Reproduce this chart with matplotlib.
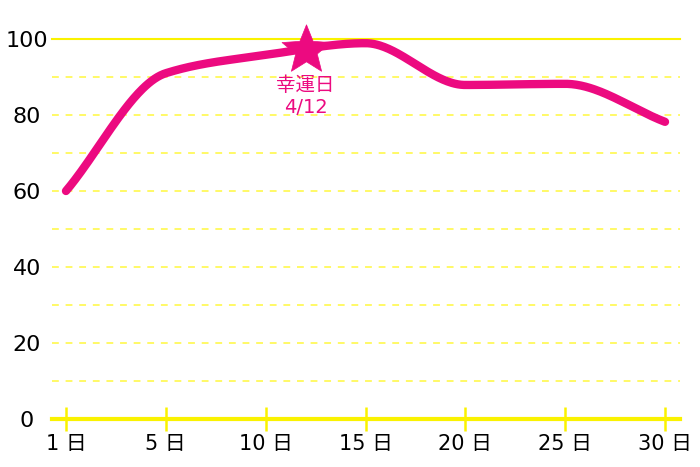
import numpy as np
import matplotlib
matplotlib.use("Agg")
import matplotlib.pyplot as plt
from matplotlib.path import Path

plt.rcParams['font.family'] = ['DejaVu Sans', 'Noto Sans CJK JP']

days = [1, 5, 10, 15, 20, 25, 30]
values = [60, 91, 95.8, 98.9, 87.9, 88.2, 78.2]
x_labels = ["1 日", "5 日", "10 日", "15 日", "20 日", "25 日", "30 日"]
y_ticks = [0, 20, 40, 60, 80, 100]
lucky_day = 12
lucky_value = 97.2
lucky_label = "幸運日\n4/12"

PINK = '#EC0A80'
YELLOW = '#FAF200'
LIGHT_YELLOW = '#FFF966'


def pchip(x, y, xs):
    x = np.asarray(x, float); y = np.asarray(y, float)
    h = np.diff(x); d = np.diff(y) / h
    n = len(x); m = np.zeros(n)
    for k in range(1, n - 1):
        if d[k - 1] * d[k] > 0:
            w1 = 2 * h[k] + h[k - 1]; w2 = h[k] + 2 * h[k - 1]
            m[k] = (w1 + w2) / (w1 / d[k - 1] + w2 / d[k])
    m[0] = d[0]; m[-1] = d[-1]
    out = np.empty_like(xs)
    for i, xv in enumerate(xs):
        k = min(max(np.searchsorted(x, xv) - 1, 0), n - 2)
        t = (xv - x[k]) / h[k]
        h00 = 2*t**3 - 3*t**2 + 1; h10 = t**3 - 2*t**2 + t
        h01 = -2*t**3 + 3*t**2; h11 = t**3 - t**2
        out[i] = h00*y[k] + h10*h[k]*m[k] + h01*y[k+1] + h11*h[k]*m[k+1]
    return out


idx = np.arange(len(days))
fig = plt.figure(figsize=(7, 4.67), dpi=100)
ax = fig.add_axes([52/700, 1-419/467, 628/700, 380/467])
ax.set_xlim(-0.14, 6.15)
ax.set_ylim(0, 100)

# grid
for v in range(10, 100, 10):
    ax.axhline(v, color=LIGHT_YELLOW, lw=1.4, ls=(0, (3.5, 3.5)), zorder=1)
ax.axhline(100, color=YELLOW, lw=1.5, zorder=1, clip_on=False)

xs = np.linspace(0, 6, 400)
ys = pchip(idx, values, xs)
ax.plot(xs, ys, color=PINK, lw=6, solid_capstyle='round', zorder=3, clip_on=False)

# lucky day star (map day into index space)
lx = np.interp(lucky_day, days, idx)
star = Path.unit_regular_star(5, 0.44)
ax.plot([lx], [lucky_value], marker=star, ms=37, color=PINK, mec=PINK, mew=0.5,
        zorder=4, clip_on=False)
ax.text(lx, 84.9, lucky_label, color=PINK, fontsize=14, ha='center', va='center',
        linespacing=1.15, zorder=4)

for s in ['top', 'right', 'left']:
    ax.spines[s].set_visible(False)
ax.spines['bottom'].set_color(YELLOW)
ax.spines['bottom'].set_linewidth(3)
ax.spines['bottom'].set_zorder(2)

ax.set_xticks(idx)
ax.set_xticklabels(x_labels, fontsize=15)
ax.tick_params(axis='x', direction='inout', length=17, width=1.8, color=YELLOW, pad=2)
ax.set_yticks(y_ticks)
ax.set_yticklabels([str(v) for v in y_ticks], fontsize=16, ha='center')
ax.tick_params(axis='y', length=0, pad=18)

fig.savefig('out.png', dpi=100)
